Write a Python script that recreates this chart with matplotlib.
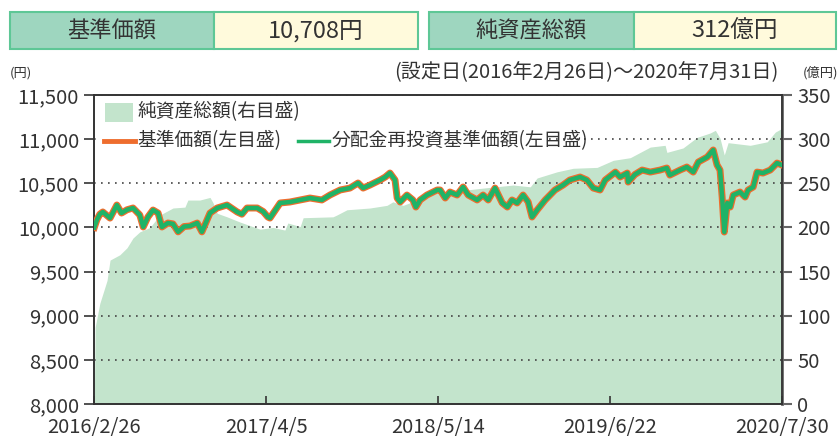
import pandas as pd
import matplotlib
matplotlib.use('Agg')
import matplotlib.pyplot as plt
from matplotlib.patches import Rectangle
from matplotlib.lines import Line2D

plt.rcParams['font.family'] = ['Noto Sans CJK JP', 'DejaVu Sans']

START = pd.Timestamp('2016-02-26')
END = pd.Timestamp('2020-07-30')

tick_labels = ['2016/2/26', '2017/4/5', '2018/5/14', '2019/6/22', '2020/7/30']

# days since launch, NAV (yen)
nav_days = [0, 6, 13, 20, 37, 53, 64, 77, 91, 107, 115, 126, 138, 150, 159, 173, 185, 197,
            211, 225, 242, 253, 272, 289, 312, 336, 347, 359, 383, 397, 408, 413, 437, 460,
            484, 507, 535, 554, 578, 601, 620, 632, 648, 672, 684, 695, 707, 712, 719, 735,
            749, 756, 766, 782, 806, 813, 825, 836, 853, 867, 879, 900, 914, 926, 942, 959,
            971, 982, 994, 1008, 1020, 1029, 1041, 1060, 1083, 1102, 1118, 1142, 1158, 1173,
            1189, 1201, 1225, 1236, 1253, 1255, 1271, 1288, 1307, 1330, 1346, 1353, 1377,
            1393, 1408, 1420, 1441, 1455, 1464, 1471, 1476, 1481, 1488, 1495, 1502, 1518,
            1530, 1537, 1549, 1558, 1572, 1589, 1605, 1616]
nav = [10000, 10085, 10150, 10175, 10106, 10254, 10163, 10200, 10220, 10141, 10005, 10118,
       10197, 10163, 10005, 10050, 10040, 9950, 10010, 10016, 10050, 9950, 10163, 10220,
       10254, 10175, 10150, 10220, 10220, 10180, 10118, 10106, 10277, 10288, 10311, 10333,
       10311, 10367, 10424, 10446, 10503, 10446, 10480, 10537, 10571, 10616, 10537, 10333,
       10288, 10367, 10311, 10231, 10311, 10367, 10424, 10424, 10333, 10401, 10367, 10458,
       10367, 10311, 10367, 10311, 10446, 10277, 10231, 10311, 10277, 10367, 10288, 10118,
       10197, 10311, 10424, 10480, 10537, 10571, 10537, 10446, 10424, 10537, 10627, 10571,
       10616, 10514, 10600, 10650, 10627, 10650, 10673, 10593, 10650, 10684, 10627, 10741,
       10797, 10877, 10707, 10650, 10344, 9948, 10277, 10231, 10367, 10401, 10344, 10424,
       10458, 10627, 10616, 10650, 10729, 10708]

# days since launch, net assets (100 million yen)
asset_days = [0, 2, 13, 30, 37, 60, 77, 91, 107, 131, 154, 185, 213, 220, 248, 272, 279,
              289, 312, 343, 390, 420, 448, 455, 484, 491, 561, 570, 594, 648, 688, 702,
              726, 759, 806, 867, 923, 985, 1025, 1041, 1088, 1126, 1182, 1220, 1260, 1307,
              1342, 1346, 1384, 1417, 1448, 1460, 1471, 1481, 1490, 1542, 1582, 1601, 1616]
assets = [0, 87, 114, 140, 163, 169, 177, 188, 195, 200, 214, 222, 223, 231, 231, 234, 228,
          216, 212, 206, 198, 200, 197, 205, 201, 211, 212, 214, 220, 222, 225, 229, 225,
          231, 239, 242, 245, 248, 246, 256, 263, 267, 268, 276, 279, 291, 293, 285, 290,
          302, 307, 310, 301, 282, 296, 293, 297, 308, 312]

C_TEXT = '#333333'
C_AREA = '#c3e4cc'
C_ORANGE = '#ee6d2e'
C_GREEN = '#1fb367'
C_HEAD = '#9ed6bf'
C_HEAD_EDGE = '#5ec796'
C_VALUE = '#fffadc'

W, H = 838, 436


def fx(px):
    return px / W


def fy(py):
    return 1 - py / H


nav_dates = START + pd.to_timedelta(nav_days, unit='D')
asset_dates = START + pd.to_timedelta(asset_days, unit='D')
tick_dates = pd.to_datetime(tick_labels, format='%Y/%m/%d')

fig = plt.figure(figsize=(W / 100, H / 100), dpi=100)
ax = fig.add_axes([fx(94.3), fy(404), (781.7 - 94.3) / W, 309 / H])
ax2 = ax.twinx()
ax.set_zorder(ax2.get_zorder() + 1)
ax.patch.set_visible(False)

ax2.fill_between(asset_dates, assets, 0, color=C_AREA, lw=0)
ax2.set_ylim(0, 350)
ax2.set_yticks(range(0, 351, 50))

ax.plot(nav_dates, nav, color=C_ORANGE, lw=5, solid_joinstyle='round', zorder=3)
ax.plot(nav_dates, nav, color=C_GREEN, lw=3.2, solid_joinstyle='round', zorder=4)
ax.set_ylim(8000, 11500)
ax.set_yticks(range(8000, 11501, 500))
ax.set_yticklabels([f'{v:,}' for v in range(8000, 11501, 500)])
ax.set_xlim(START, END)
ax.set_xticks(tick_dates)
ax.set_xticklabels(tick_labels)
ax.grid(axis='y', color='#444444', linestyle=(0, (1, 3.2)), lw=1.2)

for a in (ax, ax2):
    for s in a.spines.values():
        s.set_color(C_TEXT)
        s.set_linewidth(1.2)
ax2.spines['right'].set_color('#666666')
ax2.spines['right'].set_linewidth(2)

ax.tick_params(axis='y', direction='out', length=7, width=1.2, color=C_TEXT,
               labelsize=14.5, labelcolor=C_TEXT, pad=4)
ax.tick_params(axis='x', direction='in', length=6, width=1.2, color=C_TEXT,
               labelsize=14.5, labelcolor=C_TEXT, pad=9)
ax2.tick_params(axis='y', direction='out', length=7, width=1.5, color='#666666',
                labelsize=14.5, labelcolor=C_TEXT, pad=4)

# header boxes
for x0, xm, x1, label, value in [(10, 214, 418, '基準価額', '10,708円'),
                                 (429, 634, 836, '純資産総額', '312億円')]:
    fig.patches.append(Rectangle((fx(x0), fy(49)), fx(xm - x0), 37 / H, transform=fig.transFigure,
                                 facecolor=C_HEAD, edgecolor=C_HEAD_EDGE, lw=1.5))
    fig.patches.append(Rectangle((fx(xm), fy(49)), fx(x1 - xm), 37 / H, transform=fig.transFigure,
                                 facecolor=C_VALUE, edgecolor=C_HEAD_EDGE, lw=1.5))
    fig.text(fx((x0 + xm) / 2), fy(31), label, ha='center', va='center', fontsize=16, color=C_TEXT)
    fig.text(fx((xm + x1) / 2), fy(31), value, ha='center', va='center', fontsize=17, color=C_TEXT)

fig.text(fx(10), fy(73), '(円)', ha='left', va='center', fontsize=9.5, color=C_TEXT)
fig.text(fx(838), fy(73), '(億円)', ha='right', va='center', fontsize=9.5, color=C_TEXT)
fig.text(fx(778), fy(73), '(設定日(2016年2月26日)～2020年7月31日)', ha='right', va='center',
         fontsize=14.5, color=C_TEXT)

# legend (white box hides the grid behind it)
fig.patches.append(Rectangle((fx(97), fy(153)), fx(448), 55 / H, transform=fig.transFigure,
                             facecolor='white', lw=0))
fig.patches.append(Rectangle((fx(105), fy(122)), fx(28), 19 / H, transform=fig.transFigure,
                             facecolor=C_AREA, lw=0))
fig.text(fx(137), fy(112), '純資産総額(右目盛)', ha='left', va='center', fontsize=13.5, color=C_TEXT)
fig.lines.append(Line2D([fx(104), fx(135)], [fy(141), fy(141)], transform=fig.transFigure,
                        color=C_ORANGE, lw=3.5))
fig.text(fx(137), fy(141), '基準価額(左目盛)', ha='left', va='center', fontsize=13.5, color=C_TEXT)
fig.lines.append(Line2D([fx(298), fx(329)], [fy(141), fy(141)], transform=fig.transFigure,
                        color=C_GREEN, lw=2.5))
fig.text(fx(332), fy(141), '分配金再投資基準価額(左目盛)', ha='left', va='center', fontsize=13.5,
         color=C_TEXT)

plt.savefig('out.png', dpi=100)
